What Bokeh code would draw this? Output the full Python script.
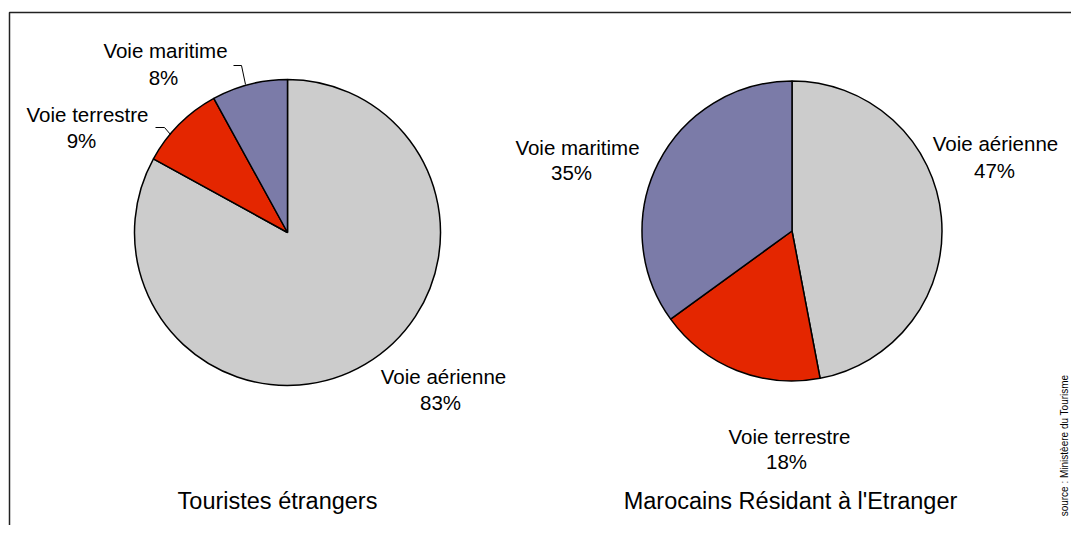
import math
from bokeh.plotting import figure
from bokeh.models import ColumnDataSource, Range1d
from bokeh.core.properties import value
from bokeh.embed import file_html
from bokeh.resources import INLINE

# ---- data ----
categories = ["Voie aérienne", "Voie terrestre", "Voie maritime"]
touristes = [83, 9, 8]
mre = [47, 18, 35]
colors = ["#cccccc", "#e42600", "#7b7ba8"]
titles = ["Touristes étrangers", "Marocains Résidant à l'Etranger"]
source_note = "source : Ministèere du Tourisme"

FONT = "Liberation Sans"
W, H = 1071, 525

p = figure(width=W, height=H, output_backend="svg", toolbar_location=None,
           x_range=Range1d(0, W), y_range=Range1d(0, H), min_border=0)
p.axis.visible = False
p.grid.visible = False
p.outline_line_color = None
p.background_fill_color = "white"


def wedges(vals):
    total = float(sum(vals))
    starts, ends = [], []
    cum = 0.0
    for v in vals:
        a0 = math.pi / 2 - 2 * math.pi * cum / total
        cum += v
        a1 = math.pi / 2 - 2 * math.pi * cum / total
        starts.append(a1)
        ends.append(a0)
    return starts, ends


pies = [(touristes, 287, 293, 153), (mre, 791.5, 294.5, 150)]
for vals, cx, cy, r in pies:
    s, e = wedges(vals)
    src = ColumnDataSource(dict(start=s, end=e, color=colors, cat=categories, v=vals))
    p.wedge(x=cx, y=cy, radius=r, start_angle="start", end_angle="end",
            fill_color="color", line_color="black", line_width=1.5, source=src)

# ---- labels (positions: name x, name y, pct x, pct y) ----
label_pos = {
    0: {"Voie aérienne": (443, 149, 440, 123),
        "Voie terrestre": (87, 411, 81, 385),
        "Voie maritime": (165, 475, 163, 448)},
    1: {"Voie aérienne": (995, 382, 994, 355),
        "Voie terrestre": (789, 89, 786, 64),
        "Voie maritime": (577, 378, 571, 353)},
}
xs, ys, txt = [], [], []
for i, vals in enumerate([touristes, mre]):
    for cat, v in zip(categories, vals):
        x1, y1, x2, y2 = label_pos[i][cat]
        xs += [x1, x2]
        ys += [y1, y2]
        txt += [cat, f"{v}%"]
p.text(x=xs, y=ys, text=txt, text_align="center", text_baseline="middle",
       text_font=value(FONT), text_font_size="20.5px", text_color="black")

# leader lines
p.line(x=[233, 241, 245], y=[460, 460, 441], line_color="black", line_width=1)
p.line(x=[155, 164, 170], y=[398, 398, 391], line_color="black", line_width=1)

# titles
p.text(x=[277, 790], y=[25, 25], text=titles, text_align="center", text_baseline="middle",
       text_font=value(FONT), text_font_size="23.5px", text_color="black")

# source note
p.text(x=[1064], y=[80], text=[source_note], angle=math.pi / 2, text_align="center",
       text_baseline="middle", text_font=value(FONT), text_font_size="10px",
       text_color="black")

# frame (left and top edges)
p.line(x=[9, 9, W], y=[0, 513, 513], line_color="#222222", line_width=1.5)

open("out.html", "w").write(file_html(p, INLINE))
